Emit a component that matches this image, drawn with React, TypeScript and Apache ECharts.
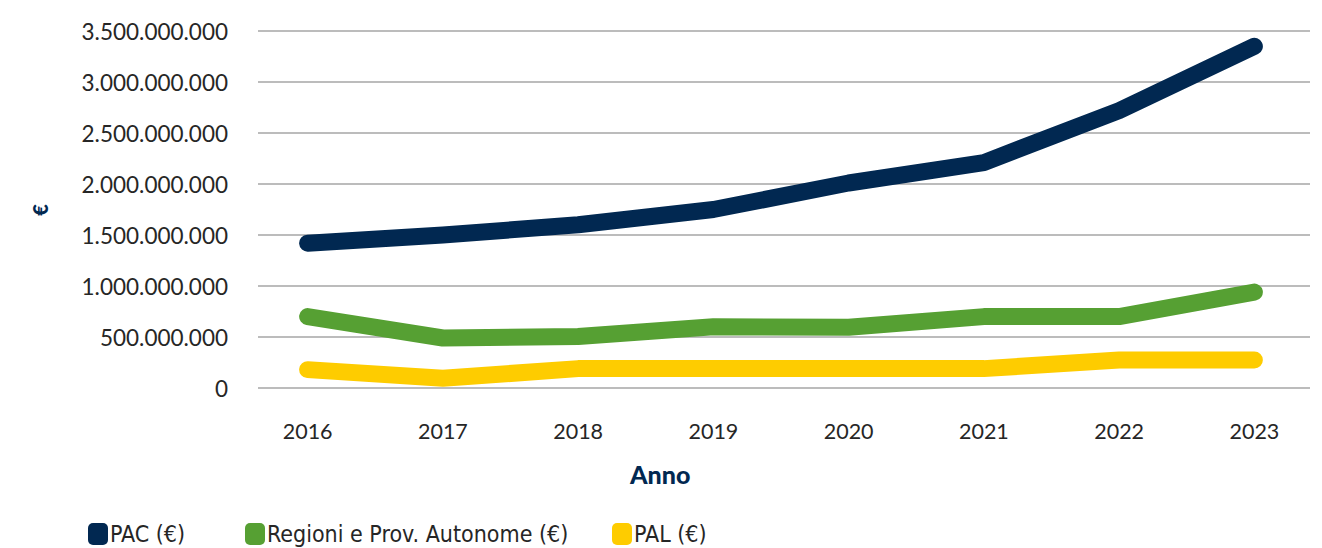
import React, { useEffect, useRef } from "react";
import * as echarts from "echarts";

const years = ["2016", "2017", "2018", "2019", "2020", "2021", "2022", "2023"];
const pac = [1420e6, 1500e6, 1600e6, 1750e6, 2010e6, 2210e6, 2720e6, 3350e6];
const regioni = [700e6, 490e6, 505e6, 600e6, 595e6, 700e6, 700e6, 940e6];
const pal = [180e6, 95e6, 190e6, 190e6, 190e6, 190e6, 275e6, 275e6];
const seriesNames = ["PAC (€)", "Regioni e Prov. Autonome (€)", "PAL (€)"];
const colors = ["#012851", "#56a033", "#fecc00"];

const Y_MAX = 3500e6;
const Y_STEP = 500e6;

function fmt(v: number): string {
  return Math.round(v).toString().replace(/\B(?=(\d{3})+(?!\d))/g, ".");
}

export default function App() {
  const ref = useRef<HTMLDivElement>(null);
  useEffect(() => {
    if (!ref.current) return;
    const chart = echarts.init(ref.current, null, { renderer: "svg" });
    const tickFont = "Lato, 'Open Sans', sans-serif";
    const legendFont = "'Liberation Sans Narrow', 'DejaVu Sans Condensed', 'Roboto Condensed', sans-serif";
    const legendLefts = [88, 245, 612];
    const dataSets = [pac, regioni, pal];
    chart.setOption({
      animation: false,
      backgroundColor: "#ffffff",
      grid: [
        { left: 258, top: 31, width: 1052, bottom: 160 },
        { left: 240, top: 31, width: 1086, bottom: 160 },
      ],
      xAxis: [
        { type: "category", gridIndex: 0, data: years, show: false },
        {
          type: "category",
          gridIndex: 1,
          data: years,
          boundaryGap: true,
          axisLine: { show: false },
          axisTick: { show: false },
          splitLine: { show: false },
          axisLabel: {
            margin: 32,
            fontSize: 21.5,
            fontFamily: tickFont,
            color: "#262626",
          },
        },
      ],
      yAxis: [
        {
          type: "value",
          gridIndex: 0,
          min: 0,
          max: Y_MAX,
          interval: Y_STEP,
          axisLine: { show: false },
          axisTick: { show: false },
          splitLine: { lineStyle: { color: "#a6a6a6", width: 1.5 } },
          axisLabel: {
            margin: 30,
            fontSize: 22.5,
            fontFamily: tickFont,
            color: "#262626",
            formatter: (v: number) => fmt(v),
          },
        },
        {
          type: "value",
          gridIndex: 1,
          min: 0,
          max: Y_MAX,
          interval: Y_STEP,
          show: false,
          splitLine: { show: false },
        },
      ],
      legend: seriesNames.map((n, i) => ({
        data: [n],
        left: legendLefts[i],
        top: 522,
        icon: "roundRect",
        itemWidth: 20,
        itemHeight: 22,
        itemGap: 0,
        padding: 0,
        textStyle: {
          fontSize: 23,
          lineHeight: 24,
          fontFamily: legendFont,
          color: "#262626",
          padding: [0, 0, 0, -3],
        },
      })),
      graphic: [
        {
          type: "text",
          left: 630,
          top: 461,
          style: {
            text: "Anno",
            fontSize: 25,
            fontWeight: 900,
            fontFamily: tickFont,
            fill: "#012851",
          },
        },
        {
          type: "text",
          x: 40,
          y: 210,
          rotation: Math.PI / 2,
          style: {
            text: "€",
            fontSize: 20,
            fontWeight: 900,
            fontFamily: tickFont,
            fill: "#012851",
            align: "center",
            verticalAlign: "middle",
          },
        },
      ],
      series: dataSets.map((d, i) => ({
        name: seriesNames[i],
        type: "line",
        xAxisIndex: 1,
        yAxisIndex: 1,
        data: d,
        symbol: "none",
        color: colors[i],
        lineStyle: { width: 17, color: colors[i], cap: "round", join: "round" },
        z: 10 - i,
      })),
    });
    return () => chart.dispose();
  }, []);
  return (
    <div
      ref={ref}
      style={{ position: "absolute", left: 0, top: 0, width: 1322, height: 548 }}
    />
  );
}
